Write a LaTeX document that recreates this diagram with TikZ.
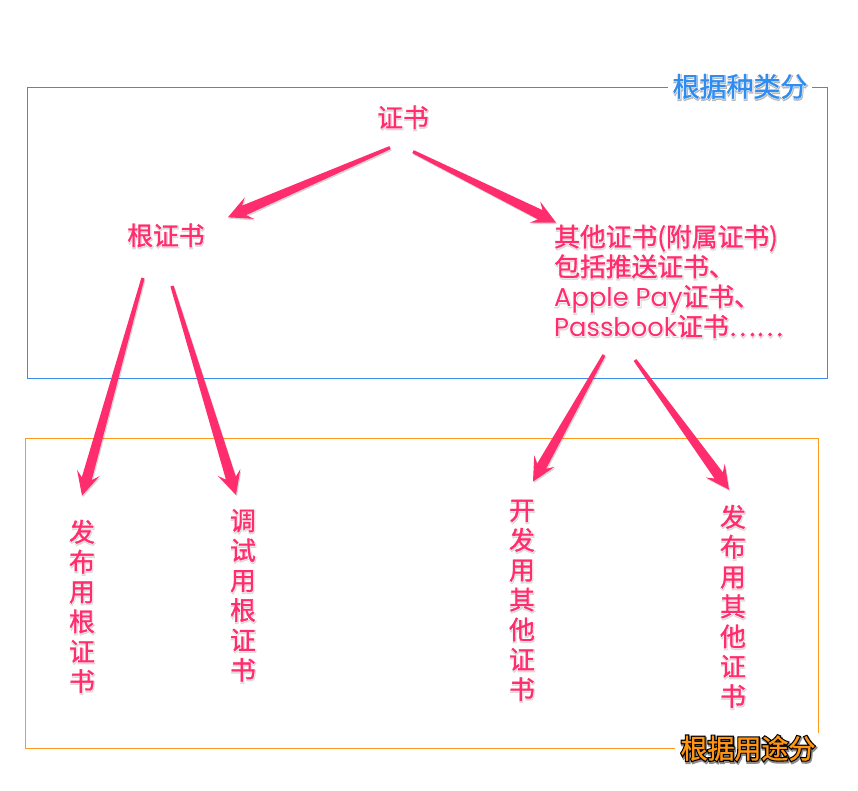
\documentclass[tikz,border=0pt]{standalone}
\usepackage{fontspec}
\setmainfont{Noto Sans CJK SC}[FakeBold=1.2]
\newfontfamily\latinfont{Poppins}
% emboldened cuts used for glows, outlines and soft shadows behind the text
\newfontfamily\shadefont[FakeBold=8]{Noto Sans CJK SC}
\newfontfamily\glowfont[FakeBold=5]{Noto Sans CJK SC}
\newfontfamily\outlinefont[FakeBold=10]{Noto Sans CJK SC}
\newfontfamily\haloshadefont[FakeBold=13]{Noto Sans CJK SC}
\newfontfamily\latinshade[FakeBold=8]{Poppins}
\newfontfamily\latinglow[FakeBold=5]{Poppins}
\usetikzlibrary{calc}

\definecolor{certpink}{HTML}{FF2C6E}
\definecolor{kindblue}{HTML}{3A8EE6}
\definecolor{useorange}{HTML}{FF9A1E}
\definecolor{labelblue}{HTML}{2F8CF0}
\definecolor{labelorange}{HTML}{FF9410}

\let\lat\latinfont
% text #3 in colour #2 with a white glow and a shadow of colour #1
\newcommand\glowtext[3]{%
  \rlap{\let\lat\latinshade\shadefont\color{#1}\kern0.4pt\raisebox{-1pt}{#3}}%
  \rlap{\let\lat\latinglow\glowfont\color{white}#3}%
  \textcolor{#2}{#3}}
\newcommand\pk[1]{\glowtext{black!14}{certpink}{#1}}

% tapered arrow from coordinate #1 to coordinate #2
\newcommand\skarrow[2]{%
  \coordinate (#1-j) at ($(#2)!15pt!(#1)$);
  \coordinate (#1-b) at ($(#2)!20pt!(#1)$);
  \fill[arrowbody]
    ($(#1)!1.4pt!90:(#2)$) -- ($(#1-j)!4.4pt!-90:(#1)$) -- ($(#1-b)!10pt!-90:(#1)$)
    -- (#2)
    -- ($(#1-b)!10pt!90:(#1)$) -- ($(#1-j)!4.4pt!90:(#1)$) -- ($(#1)!1.4pt!-90:(#2)$)
    -- cycle;}

\begin{document}
\begin{tikzpicture}[x=0.03cm,y=-0.03cm,
  cert/.style={inner sep=0pt, font=\fontsize{22}{25.5}\selectfont},
  vcert/.style={cert, align=center},
  group/.style={line width=0.8pt},
  tag/.style={inner sep=0pt, font=\fontsize{23}{26}\selectfont},
  arrowbody/.style={fill=certpink,
    preaction={fill=black, opacity=0.16, transform canvas={shift={(0.9pt,-1.3pt)}}}},
]
\useasboundingbox (0,0) rectangle (858,791);
\fill[white] (0,0) rectangle (858,791);

% frames
\draw[group, kindblue] (27,87) rectangle (827,378);
\draw[group, useorange] (25,438) rectangle (818,748);

% frame labels
\node[tag, fill=white, inner xsep=4pt, inner ysep=2pt] (kind) at (740,87)
  {\glowtext{black!28}{labelblue}{根据种类分}};
\node[tag, fill=white, inner xsep=5pt, inner ysep=2pt] (use) at (748,749)
  {\rlap{\haloshadefont\color{black!45}\kern0.8pt\raisebox{-1.4pt}{根据用途分}}%
   \rlap{\outlinefont\color{black}根据用途分}%
   \textcolor{labelorange}{根据用途分}};

% certificate nodes
\node[cert] (cert) at (403,118) {\pk{证书}};
\node[cert] (root) at (166,236) {\pk{根证书}};
\node[cert, align=left, anchor=west] (other) at (554,282)
  {\pk{其他证书(附属证书)}\\\pk{包括推送证书、}\\\pk{{\lat Apple Pay}证书、}\\\pk{{\lat Passbook}证书……}};

\node[vcert] (rootrel) at (82,607) {\pk{发}\\\pk{布}\\\pk{用}\\\pk{根}\\\pk{证}\\\pk{书}};
\node[vcert] (rootdev) at (243,596) {\pk{调}\\\pk{试}\\\pk{用}\\\pk{根}\\\pk{证}\\\pk{书}};
\node[vcert] (otherdev) at (522,601) {\pk{开}\\\pk{发}\\\pk{用}\\\pk{其}\\\pk{他}\\\pk{证}\\\pk{书}};
\node[vcert] (otherrel) at (733,607) {\pk{发}\\\pk{布}\\\pk{用}\\\pk{其}\\\pk{他}\\\pk{证}\\\pk{书}};

% arrow ends
\coordinate (a1s) at ($(cert.south)+(-13,17)$);
\coordinate (a1t) at ($(root.north east)+(23,-6)$);
\coordinate (a2s) at ($(cert.south)+(10,21)$);
\coordinate (a2t) at ($(other.north west)+(2,-2)$);
\coordinate (a3s) at (143,278);
\coordinate (a3t) at ($(rootrel.north)+(0,-24)$);
\coordinate (a4s) at (172,286);
\coordinate (a4t) at ($(rootdev.north)+(-7,-14)$);
\coordinate (a5s) at (604,355);
\coordinate (a5t) at ($(otherdev.north)+(11,-18)$);
\coordinate (a6s) at (635,360);
\coordinate (a6t) at ($(otherrel.north)+(-4,-15)$);

\skarrow{a1s}{a1t}
\skarrow{a2s}{a2t}
\skarrow{a3s}{a3t}
\skarrow{a4s}{a4t}
\skarrow{a5s}{a5t}
\skarrow{a6s}{a6t}
\end{tikzpicture}
\end{document}
